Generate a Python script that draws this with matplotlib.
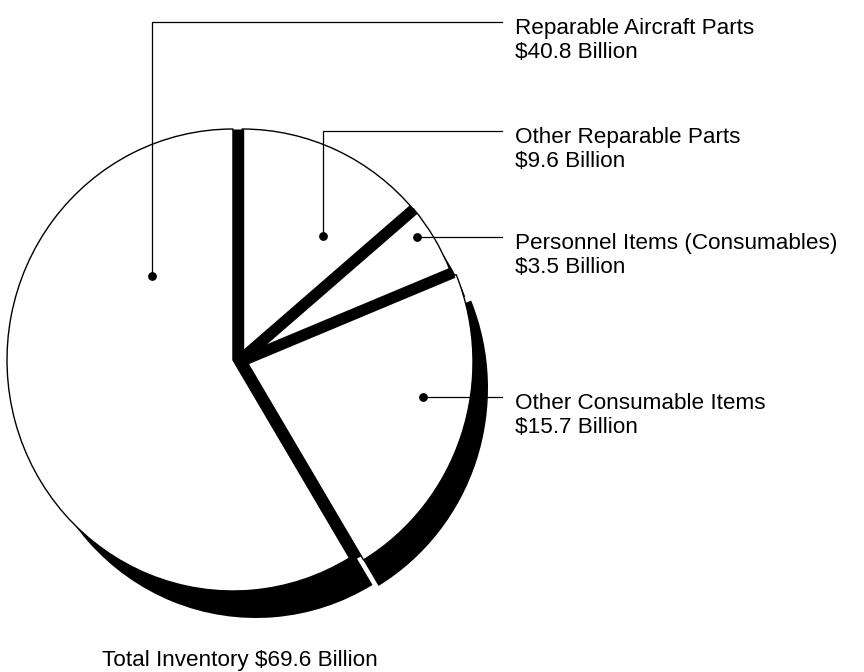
import matplotlib
matplotlib.use("Agg")
import matplotlib.pyplot as plt
import numpy as np
from matplotlib.transforms import Affine2D

# slices, clockwise from 12 o'clock
labels = ["Other Reparable Parts", "Personnel Items (Consumables)",
          "Other Consumable Items", "Reparable Aircraft Parts"]
values = [9.6, 3.5, 15.7, 40.8]
amounts = ["$9.6 Billion", "$3.5 Billion", "$15.7 Billion", "$40.8 Billion"]
total_label = "Total Inventory $69.6 Billion"

W, H = 864, 672
R = 226
ky = 231 / 226.0   # pie is a bit taller than wide
# per-slice centre and shadow shift (screen px, y down)
centers = [(242, 360), (241, 358), (247, 362), (233, 360)]
shadow_shift = [(15, 26), (15, 26), (15, 26), (23, 27)]

# label layout (screen px): dot, leader height
dots = [(323, 236), (417, 237), (423, 397), (152, 276)]
leader_y = [131, 237, 397, 22]
leader_end = 502
text_x = 515
fs = 16.2

plt.rcParams['font.family'] = ['Liberation Sans', 'DejaVu Sans']
fig = plt.figure(figsize=(W/100, H/100), dpi=100)
ax = fig.add_axes([0, 0, 1, 1])
pix = Affine2D().scale(1.0/W, -1.0/H).translate(0, 1) + fig.transFigure

def to_data(x, y):
    return x, (H - y)/ky

# black "depth" under each slice
shadow, _ = ax.pie(values, startangle=90, counterclock=False, radius=R,
                   colors=['black']*4, wedgeprops=dict(linewidth=0), frame=False)
for w, c, s in zip(shadow, centers, shadow_shift):
    w.set_center(to_data(c[0]+s[0], c[1]+s[1]))

white, _ = ax.pie(values, startangle=90, counterclock=False, radius=R,
                  colors=['white']*4, wedgeprops=dict(edgecolor='black', linewidth=1.0),
                  frame=False)
for w, c in zip(white, centers):
    w.set_center(to_data(*c))

# thick separators between slices
frac = np.cumsum([0] + values[:-1]) / sum(values)
theta = np.deg2rad(90 - 360*frac)
for i, t in enumerate(theta):
    a, b = centers[i-1], centers[i]
    x0, y0 = to_data((a[0]+b[0])/2, (a[1]+b[1])/2)
    ax.plot([x0, x0+R*np.cos(t)], [y0, y0+R*np.sin(t)], color='black',
            lw=8.2, solid_capstyle='butt', zorder=3)

# leaders and labels
for i in range(len(values)):
    dx, dy = dots[i]
    ly = leader_y[i]
    if abs(ly - dy) > 2:
        xs, ys = [dx, dx, leader_end], [dy, ly, ly]
    else:
        xs, ys = [dx, leader_end], [dy, dy]
    ax.plot(xs, ys, transform=pix, color='black', lw=0.9, zorder=4)
    ax.plot([dx], [dy], 'o', ms=5.3, color='black', transform=pix, zorder=5)
    ax.text(text_x, ly+12, labels[i], transform=pix, fontsize=fs, va='baseline', ha='left')
    ax.text(text_x, ly+36, amounts[i], transform=pix, fontsize=fs, va='baseline', ha='left')

ax.text(240, 666, total_label, transform=pix, fontsize=fs, ha='center', va='baseline')

ax.set_aspect('auto')
ax.set_xlim(0, W)
ax.set_ylim(0, H/ky)
ax.axis('off')
fig.savefig('out.png', dpi=100, facecolor='white')
